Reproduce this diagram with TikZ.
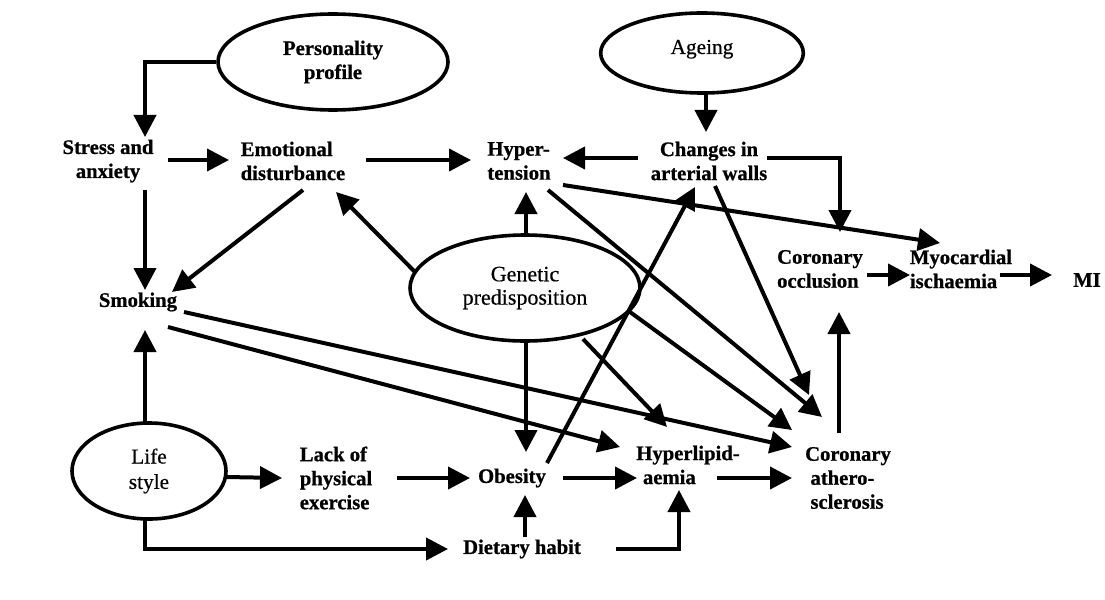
\documentclass[tikz,border=0pt]{standalone}
\usepackage{fontspec}
\setmainfont{Liberation Serif}[BoldFeatures={FakeBold=0.8}]
\newfontfamily\ovalfont{Liberation Serif}[FakeBold=0.5]
\usetikzlibrary{arrows.meta,shapes.geometric,calc}
\begin{document}
\begin{tikzpicture}[x=0.75pt,y=-0.75pt,
  lbl/.style={font=\fontsize{15.5}{18}\selectfont\bfseries, inner sep=0pt, align=left},
  lblc/.style={lbl, align=center},
  oval/.style={draw, ellipse, line width=2.7pt, inner sep=0pt, align=center},
  arr/.style={line width=3pt, -{Triangle[length=16.5pt,width=16.5pt]}},
]
\useasboundingbox (0,0) rectangle (1105,599);
% ovals
\node[oval, minimum width=172.5pt, minimum height=72pt, font=\fontsize{15.5}{18}\selectfont\bfseries] (pers) at (333,62) {Personality\\profile};
\node[oval, minimum width=152pt, minimum height=60pt, font=\fontsize{16}{18}\selectfont\ovalfont] (age) at (702,53) {\raisebox{3pt}[11pt][3.5pt]{Ageing}};
\node[oval, minimum width=172.5pt, minimum height=79.5pt, font=\fontsize{16.5}{17.5}\selectfont\ovalfont] (gen) at (525,288) {Genetic\\predisposition};
\node[oval, minimum width=115.5pt, minimum height=72pt, font=\fontsize{16}{19}\selectfont\ovalfont] (life) at (149,471) {Life\\style};
% text nodes
\node[lblc] (stress) at (108,161) {Stress and\\anxiety};
\node[lbl] (emot) at (293,161) {Emotional\\disturbance};
\node[lbl] (hyper) at (519,161) {Hyper-\\tension};
\node[lblc] (changes) at (709,161) {Changes in\\arterial walls};
\node[lbl] (occl) at (820,269) {Coronary\\occlusion};
\node[lbl] (myo) at (961,269) {Myocardial\\ischaemia};
\node[lbl] (mi) at (1087,280) {MI};
\node[lbl] (smoke) at (138,302) {Smoking};
\node[lbl] (lack) at (336,478) {Lack of\\physical\\exercise};
\node[lbl] (obes) at (512,478) {Obesity};
\node[lbl] (diet) at (522,549) {Dietary habit};
\node[lbl] (hlip) at (688,465) {Hyperlipid-\\\hspace{5pt}aemia};
\node[lbl] (ath) at (848,478) {Coronary\\\hspace{4pt}athero-\\\hspace{4pt}sclerosis};
% connectors
\draw[arr] (pers.west) -| ($(stress)+(37,-24)$);
\draw[arr] ($(stress)+(60,-1)$) -- ($(emot)+(-64,-1)$);
\draw[arr] ($(emot)+(73,-1)$) -- ($(hyper)+(-48,-1)$);
\draw[arr] ($(stress)+(37,29)$) -- ($(smoke)+(7,-12)$);
\draw[arr] ($(emot)+(10,29)$) -- ($(smoke)+(34,-10)$);
\draw[arr] ($(gen)+(-110,-16)$) -- ($(emot)+(43,31)$);
\draw[arr] ($(gen)+(1,-53)$) -- ($(hyper)+(7,31)$);
\draw[arr] ($(age)+(4,40)$) -- ($(changes)+(-3,-29)$);
\draw[arr] ($(changes)+(-71,-3)$) -- ($(hyper)+(44,-3)$);
\draw[arr] ($(changes)+(58,-3)$) -| ($(occl)+(20,-37)$);
\draw[arr] ($(hyper)+(44,24)$) -- ($(myo)+(-21,-26)$);
\draw[arr] ($(occl)+(47,6)$) -- ($(myo)+(-51,6)$);
\draw[arr] ($(myo)+(39,6)$) -- ($(mi)+(-35,-5)$);
\draw[arr] ($(obes)+(35,-15)$) -- ($(changes)+(-14,26)$);
\draw[arr] ($(changes)+(6,25)$) -- ($(ath)+(-39,-83)$);
\draw[arr] ($(hyper)+(29,29)$) -- ($(ath)+(-26,-61)$);
\draw[arr] ($(gen)+(105,24)$) -- ($(ath)+(-56,-48)$);
\draw[arr] ($(gen)+(58,51)$) -- ($(hlip)+(-21,-38)$);
\draw[arr] ($(gen)+(1,54)$) -- ($(obes)+(14,-26)$);
\draw[arr] ($(smoke)+(46,10)$) -- ($(ath)+(-56,-31)$);
\draw[arr] ($(smoke)+(30,25)$) -- ($(hlip)+(-68,-18)$);
\draw[arr] ($(life)+(-4,-48)$) -- ($(smoke)+(7,28)$);
\draw[arr] ($(life)+(77,6)$) -- ($(lack)+(-54,0)$);
\draw[arr] ($(lack)+(61,0)$) -- ($(obes)+(-42,0)$);
\draw[arr] ($(obes)+(51,0)$) -- ($(hlip)+(-51,13)$);
\draw[arr] ($(hlip)+(29,13)$) -- ($(ath)+(-56,0)$);
\draw[arr] ($(ath)+(-9,-45)$) -- ($(occl)+(19,43)$);
\draw[arr] ($(life)+(-4,48)$) |- ($(diet)+(-74,0)$);
\draw[arr] ($(diet)+(3,-12)$) -- ($(obes)+(13,17)$);
\draw[arr] ($(diet)+(94,0)$) -| ($(hlip)+(-9,25)$);
\end{tikzpicture}
\end{document}
